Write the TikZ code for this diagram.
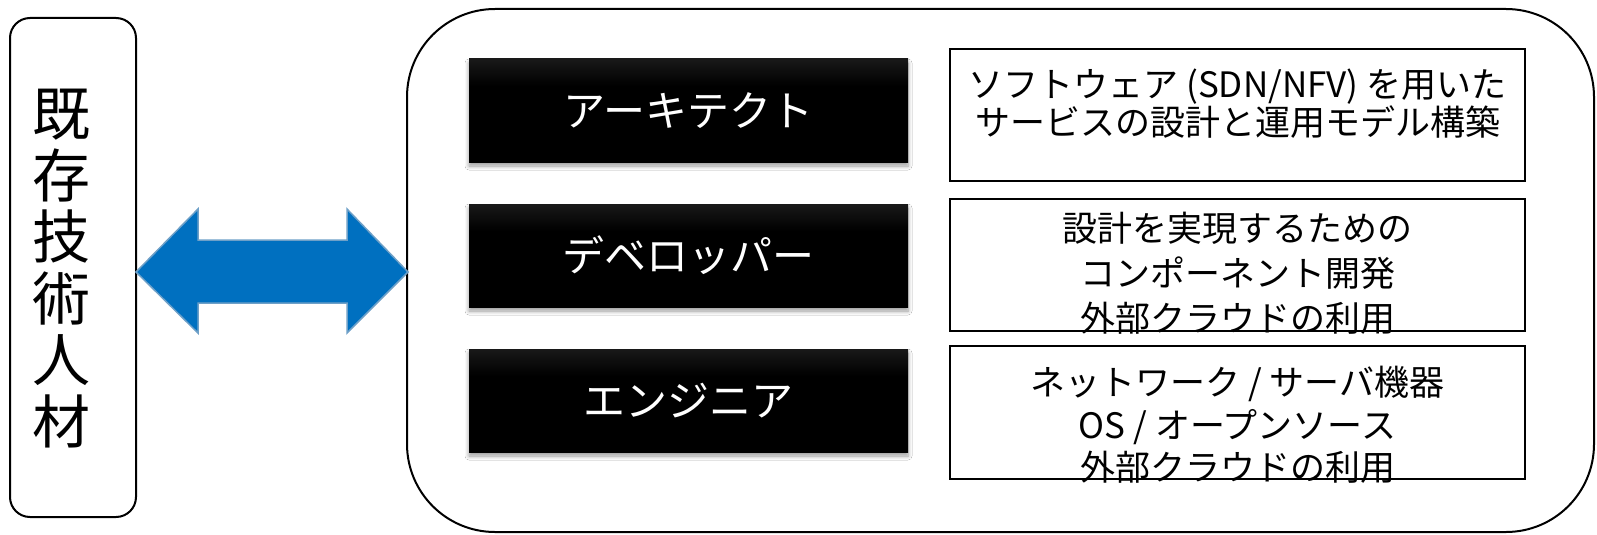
\documentclass[tikz,border=0pt]{standalone}
\usepackage{fontspec}
\setmainfont{Noto Sans CJK JP}
\usetikzlibrary{shadows.blur,calc}
\pgfdeclareverticalshading{boxshade}{100bp}{color(0bp)=(black); color(62bp)=(black); color(100bp)=(black!72)}
\definecolor{arrowblue}{RGB}{0,112,192}
\definecolor{arrowedge}{RGB}{110,160,200}
\begin{document}
\begin{tikzpicture}[x=1pt,y=-1pt,
  frame/.style={draw=black, line width=2pt, inner sep=0pt},
  role/.style={shading=boxshade, text=white, font=\fontsize{42}{50}\selectfont,
    minimum width=439pt, minimum height=103pt, inner sep=0pt,
    blur shadow={shadow xshift=0pt, shadow yshift=-4pt, shadow blur steps=6, shadow blur radius=4pt}},
  desc/.style={draw=black, line width=2pt, minimum width=575pt, minimum height=132pt, inner sep=0pt},
  desctext/.style={align=center, inner sep=0pt},
]
\useasboundingbox (0,0) rectangle (1597,535);
\fill[white] (0,0) rectangle (1597,535);

% outer boxes
\node[frame, rounded corners=88pt, minimum width=1187pt, minimum height=523pt] (B) at (1000.5,270.5) {};
\node[frame, rounded corners=20pt, minimum width=126pt, minimum height=499pt] (L) at (73,267.5) {};
\node[inner sep=0pt, align=center, font=\fontsize{58}{61.5}\selectfont] (Lt) at (61,268.5) {既\\存\\技\\術\\人\\材};

% double arrow
\coordinate (aL) at (136,272);
\coordinate (aR) at (408,272);
\draw[fill=arrowblue, draw=arrowedge, line width=1.5pt, line join=miter]
  (aL) -- ($(aL)+(62,-63)$) -- ($(aL)+(62,-32)$) -- ($(aR)+(-61,-32)$) -- ($(aR)+(-61,-63)$)
  -- (aR) -- ($(aR)+(-61,61)$) -- ($(aR)+(-61,31)$) -- ($(aL)+(62,31)$) -- ($(aL)+(62,61)$) -- cycle;

% role boxes
\node[role] (r1) at (688.5,110.5) {アーキテクト};
\node[role] (r2) at (688.5,255.5) {デベロッパー};
\node[role] (r3) at (688.5,400.5) {エンジニア};

% description texts (drawn first so the box borders lie over overflowing text)
\node[desctext, font=\fontsize{35}{36.5}\selectfont] (t1) at (1237.5,103.5) {ソフトウェア (SDN/NFV) を用いた\\サービスの設計と運用モデル構築};
\node[desctext, font=\fontsize{35}{45}\selectfont] (t2) at (1237.5,273) {設計を実現するための\\コンポーネント開発\\外部クラウドの利用};
\node[desctext, font=\fontsize{35}{42.5}\selectfont] (t3) at (1237.5,425) {ネットワーク / サーバ機器\\OS / オープンソース\\外部クラウドの利用};

% description boxes
\node[desc] (d1) at (1237.5,115) {};
\node[desc] (d2) at (1237.5,265) {};
\node[desc, minimum height=133pt] (d3) at (1237.5,412.5) {};
\end{tikzpicture}
\end{document}
